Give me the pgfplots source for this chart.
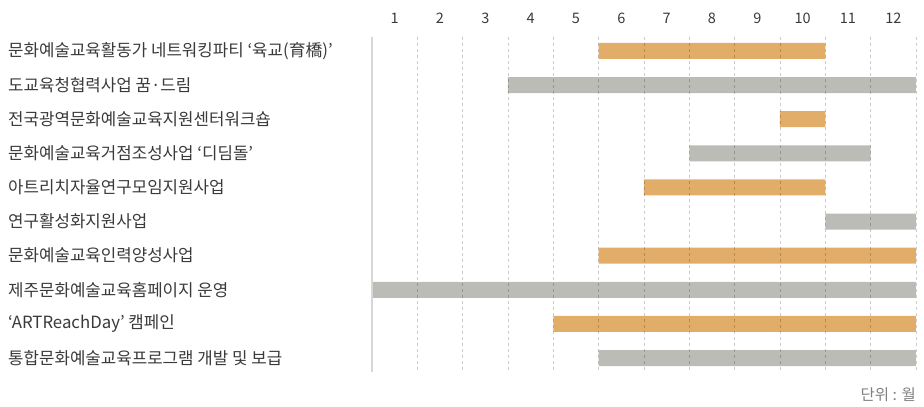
\documentclass[border=0pt]{standalone}
\usepackage{fontspec}
\setmainfont{Noto Sans CJK KR}
\usepackage{pgfplots}
\pgfplotsset{compat=1.18}
\usepackage{pgfplotstable}

\definecolor{barorange}{RGB}{226,173,104}
\definecolor{bargray}{RGB}{187,188,182}
\definecolor{labeltext}{RGB}{58,58,58}
\definecolor{leftline}{RGB}{215,215,215}

% row, start month (0 = start of Jan), orange length, gray length
\pgfplotstableread{
row start orange gray
1  5  5  0
2  3  0  9
3  9  1  0
4  7  0  4
5  6  4  0
6  10 0  2
7  5  7  0
8  0  0  12
9  4  8  0
10 5  0  7
}\gantt

\begin{document}
\begin{tikzpicture}
\begin{axis}[
  name=ax,
  scale only axis,
  width=544pt, height=335pt,
  xmin=0, xmax=12,
  ymin=0.59, ymax=10.41,
  y dir=reverse,
  xbar stacked,
  bar width=16pt,
  axis on top,
  axis x line*=top,
  axis y line*=left,
  x axis line style={draw=none},
  y axis line style={draw=leftline, line width=1.6pt, -},
  major tick length=0pt,
  minor tick length=0pt,
  xtick={0.5,1.5,...,11.5},
  xticklabels={1,2,3,4,5,6,7,8,9,10,11,12},
  minor xtick={1,2,...,12},
  xminorgrids=true,
  minor x grid style={black, opacity=0.2, line width=0.7pt, dash pattern=on 3pt off 3pt},
  ytick={1,...,10},
  yticklabels={
    문화예술교육활동가 네트워킹파티 ‘육교(育橋)’,
    도교육청협력사업 꿈·드림,
    전국광역문화예술교육지원센터워크숍,
    문화예술교육거점조성사업 ‘디딤돌’,
    아트리치자율연구모임지원사업,
    연구활성화지원사업,
    문화예술교육인력양성사업,
    제주문화예술교육홈페이지 운영,
    ‘ARTReachDay’ 캠페인,
    통합문화예술교육프로그램 개발 및 보급},
  /pgf/number format/assume math mode=true,
  xticklabel style={anchor=base, inner sep=0pt, yshift=14pt,
    font=\fontsize{14.5}{15}\selectfont, text=labeltext},
  yticklabel style={anchor=west, inner sep=0pt, xshift=-364pt,
    font=\fontsize{16.8}{17}\selectfont, text=labeltext},
]
\addplot[draw=none, fill=none] table[x=start, y=row] {\gantt};
\addplot[draw=none, fill=barorange] table[x=orange, y=row] {\gantt};
\addplot[draw=none, fill=bargray] table[x=gray, y=row] {\gantt};
\end{axis}
\node[anchor=east, inner sep=0pt, text=black!50, font=\fontsize{15.5}{16}\selectfont]
  at ([yshift=-23pt]ax.south east) {단위 : 월};
\path ([xshift=-372pt, yshift=-35pt]ax.south west) rectangle ++(924pt,407pt);
\end{tikzpicture}
\end{document}
